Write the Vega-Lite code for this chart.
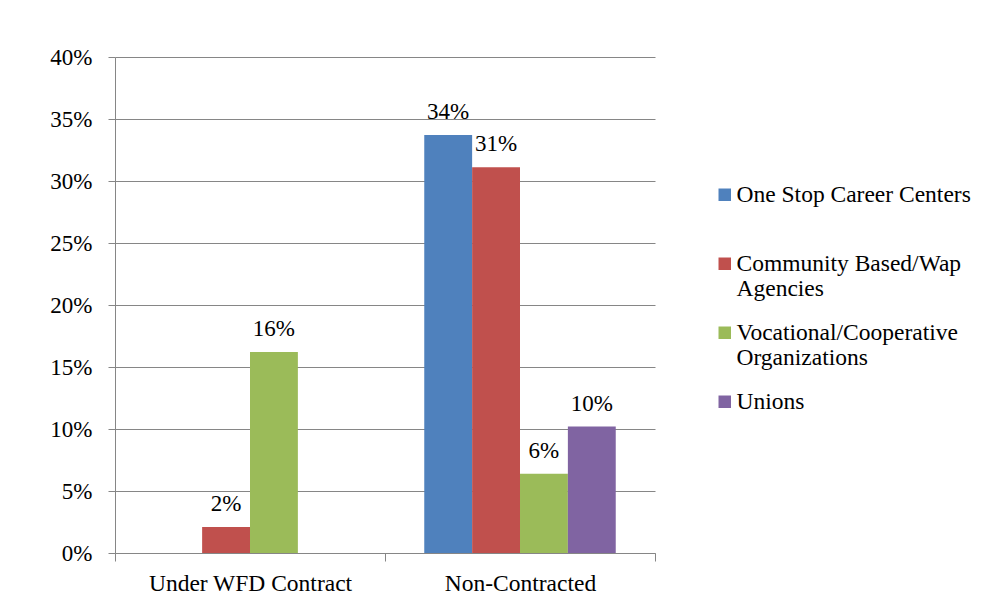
{
  "$schema": "https://vega.github.io/schema/vega-lite/v6.json",
  "autosize": {"type": "none"},
  "padding": {"left": 115, "top": 57, "right": 337, "bottom": 52},
  "width": 540,
  "height": 496,
  "background": "white",
  "data": {
    "values": [
      {"group": "Under WFD Contract", "type": "Community Based/Wap Agencies", "value": 0.021},
      {"group": "Under WFD Contract", "type": "Vocational/Cooperative Organizations", "value": 0.162},
      {"group": "Non-Contracted", "type": "One Stop Career Centers", "value": 0.337},
      {"group": "Non-Contracted", "type": "Community Based/Wap Agencies", "value": 0.311},
      {"group": "Non-Contracted", "type": "Vocational/Cooperative Organizations", "value": 0.064},
      {"group": "Non-Contracted", "type": "Unions", "value": 0.102}
    ]
  },
  "encoding": {
    "x": {
      "field": "group",
      "type": "nominal",
      "sort": ["Under WFD Contract", "Non-Contracted"],
      "scale": {"paddingInner": 0, "paddingOuter": 0},
      "axis": {
        "title": null,
        "labelAngle": 0,
        "labelLimit": 0,
        "tickBand": "extent",
        "domainColor": "#868686",
        "tickColor": "#868686",
        "tickSize": 8,
        "labelPadding": 10,
        "labelFont": "Liberation Serif",
        "labelFontSize": 23.5,
        "labelColor": "black"
      }
    },
    "xOffset": {
      "field": "type",
      "type": "nominal",
      "scale": {
        "domain": ["One Stop Career Centers", "Community Based/Wap Agencies", "Vocational/Cooperative Organizations", "Unions"],
        "paddingInner": 0,
        "paddingOuter": 0.82
      }
    },
    "y": {
      "field": "value",
      "type": "quantitative",
      "scale": {"domain": [0, 0.4]},
      "axis": {
        "title": null,
        "values": [0, 0.05, 0.1, 0.15, 0.2, 0.25, 0.3, 0.35, 0.4],
        "format": ".0%",
        "grid": true,
        "gridColor": "#868686",
        "gridOpacity": 1,
        "domainColor": "#868686",
        "tickColor": "#868686",
        "tickSize": 7,
        "labelPadding": 16,
        "labelFont": "Liberation Serif",
        "labelFontSize": 23,
        "labelColor": "black"
      }
    }
  },
  "layer": [
    {
      "mark": {"type": "bar"},
      "encoding": {
        "color": {
          "field": "type",
          "type": "nominal",
          "scale": {
            "domain": ["One Stop Career Centers", "Community Based/Wap Agencies", "Vocational/Cooperative Organizations", "Unions"],
            "range": ["#4F81BD", "#C0504D", "#9BBB59", "#8064A2"]
          },
          "legend": {
            "title": null,
            "orient": "none",
            "legendX": 598,
            "legendY": 126,
            "symbolType": "square",
            "symbolSize": 156,
            "symbolStrokeWidth": 0,
            "labelFont": "Liberation Serif",
            "labelFontSize": 23.5,
            "labelColor": "black",
            "labelLimit": 0,
            "labelOffset": 0,
            "labelBaseline": "middle",
            "rowPadding": 19,
            "labelExpr": "datum.label === 'Community Based/Wap Agencies' ? ['Community Based/Wap', 'Agencies'] : datum.label === 'Vocational/Cooperative Organizations' ? ['Vocational/Cooperative', 'Organizations'] : [datum.label, '']"
          }
        }
      }
    },
    {
      "mark": {"type": "text", "baseline": "alphabetic", "dy": -16, "font": "Liberation Serif", "fontSize": 23, "color": "black"},
      "encoding": {
        "text": {"field": "value", "type": "quantitative", "format": ".0%"}
      }
    }
  ],
  "config": {
    "view": {"stroke": null}
  }
}
